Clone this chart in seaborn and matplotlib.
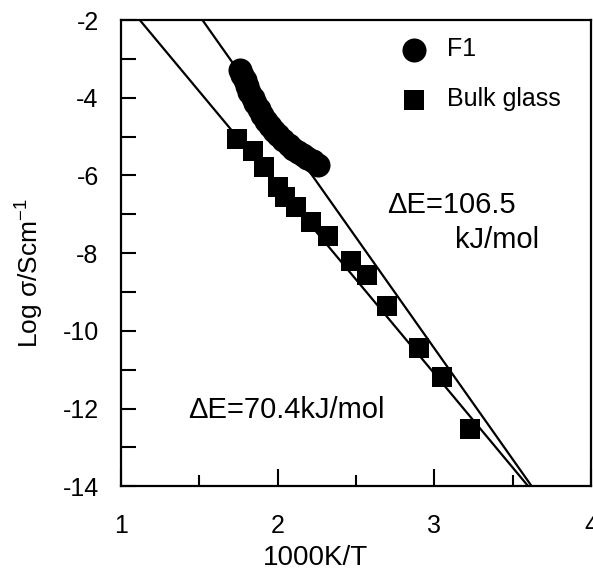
import matplotlib
matplotlib.use("Agg")
import matplotlib.pyplot as plt
import pandas as pd
import seaborn as sns

# F1 film (circles)
f1_x = [1.76, 1.775, 1.79, 1.805, 1.82, 1.84, 1.855, 1.88, 1.90, 1.925, 1.95, 1.975,
        2.00, 2.035, 2.07, 2.10, 2.13, 2.16, 2.19, 2.225, 2.26]
f1_y = [-3.29, -3.42, -3.55, -3.70, -3.86, -4.00, -4.14, -4.30, -4.45, -4.59, -4.73, -4.85,
        -4.96, -5.10, -5.22, -5.31, -5.40, -5.48, -5.56, -5.64, -5.72]

# bulk glass (squares)
bulk_x = [1.74, 1.84, 1.91, 2.00, 2.05, 2.12, 2.21, 2.32, 2.47, 2.57, 2.70, 2.90, 3.05, 3.23]
bulk_y = [-5.07, -5.38, -5.79, -6.30, -6.56, -6.82, -7.21, -7.57, -8.21, -8.57, -9.35, -10.43, -11.20, -12.52]

# Arrhenius fit lines: point on the line and slope
fit_f1 = ((1.52, -2.0), -5.71)
fit_bulk = ((1.12, -2.0), -4.84)

x_ticks = [1, 2, 3, 4]
y_ticks = [-14, -12, -10, -8, -6, -4, -2]

sns.set_style("white")
plt.rcParams['font.family'] = ['Liberation Sans', 'DejaVu Sans']
plt.rcParams['axes.unicode_minus'] = False
plt.rcParams['mathtext.default'] = 'regular'
plt.rcParams['text.color'] = 'black'
plt.rcParams['axes.labelcolor'] = 'black'

f1 = pd.DataFrame({'x': f1_x, 'y': f1_y})
bulk = pd.DataFrame({'x': bulk_x, 'y': bulk_y})

fig = plt.figure(figsize=(5.93, 5.72), dpi=100)
ax = fig.add_axes([0.204, 0.150, 0.7926, 0.815])

sns.scatterplot(data=f1, x='x', y='y', marker='o', s=300, color='black',
                edgecolor='black', linewidth=0, label='F1', ax=ax, zorder=3)
sns.scatterplot(data=bulk, x='x', y='y', marker='s', s=210, color='black',
                edgecolor='black', linewidth=0, label='Bulk glass', ax=ax, zorder=3)

ax.axline(fit_f1[0], slope=fit_f1[1], color='black', linewidth=1.6, zorder=2)
ax.axline(fit_bulk[0], slope=fit_bulk[1], color='black', linewidth=1.6, zorder=2)

ax.set_xlim(1, 4)
ax.set_ylim(-14, -2)
ax.set_xticks(x_ticks)
ax.set_yticks(y_ticks)
ax.set_xticks([1.5, 2.5, 3.5], minor=True)
ax.set_yticks([-13, -11, -9, -7, -5, -3], minor=True)
ax.tick_params(axis='both', which='both', direction='in', width=1.5,
               bottom=True, left=True, top=False, right=False,
               labelsize=18, colors='black')
ax.tick_params(axis='x', which='major', length=12, pad=20)
ax.tick_params(axis='x', which='minor', length=8)
ax.tick_params(axis='y', which='both', length=11, pad=16)
for sp in ax.spines.values():
    sp.set_linewidth(1.6)
    sp.set_color('black')

ax.set_xlabel('1000K/T', fontsize=20)
ax.set_ylabel('Log σ/Scm$^{-1}$', fontsize=19)
ax.xaxis.set_label_coords(0.413, -0.127)
ax.yaxis.set_label_coords(-0.16, 0.458)

ax.text(2.70, -6.77, 'ΔE=106.5', fontsize=21, va='center', ha='left')
ax.text(3.13, -7.67, 'kJ/mol', fontsize=21, va='center', ha='left')
ax.text(1.43, -12.05, 'ΔE=70.4kJ/mol', fontsize=21, va='center', ha='left')

ax.legend(loc='upper left', bbox_to_anchor=(0.565, 0.99), frameon=False,
          fontsize=18, borderpad=0, handlelength=1.2, handletextpad=0.7,
          labelspacing=1.05)

fig.savefig('out.png', dpi=100)
